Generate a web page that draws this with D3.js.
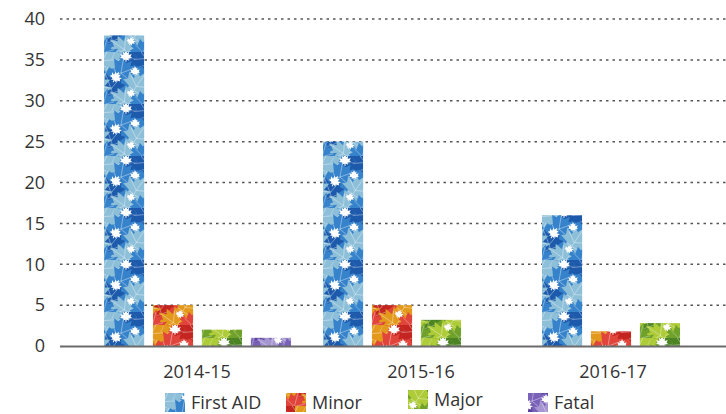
<!DOCTYPE html>
<html>
<head>
<meta charset="utf-8">
<script src="https://cdn.jsdelivr.net/npm/d3@7"></script>
<style>
  body { margin: 0; background: #fff; }
  svg { display: block; font-family: "Open Sans", "DejaVu Sans", sans-serif; }
</style>
</head>
<body>
<div id="chart"></div>
<script>
const years = ["2014-15", "2015-16", "2016-17"];
const series = ["First AID", "Minor", "Major", "Fatal"];
const firstAid = [38, 25, 16];
const minor = [5, 5, 1.8];
const major = [2, 3.2, 2.8];
const fatal = [1, 0, 0];
const yTicks = [0, 5, 10, 15, 20, 25, 30, 35, 40];

const values = [firstAid, minor, major, fatal];

// leaf colours per series: dark, mid, light
const palettes = [
  ["#1d5aab", "#3683cc", "#8dbfd9"],
  ["#c42520", "#e0443b", "#e39a1c"],
  ["#4c8423", "#6fa12b", "#aecb38"],
  ["#5a40a0", "#7a62b8", "#a596d2"]
];

const width = 726, height = 414;
const svg = d3.select("#chart").append("svg")
  .attr("width", width).attr("height", height);

const leafPath = "M0,-10 L2,-5 L5,-7 L4.5,-1.5 L9.5,-3.5 L7.5,1 L10,3 L4,4.5 L5,8 L1,6 L0.6,10 L-0.6,10 L-1,6 L-5,8 L-4,4.5 L-10,3 L-7.5,1 L-9.5,-3.5 L-4.5,-1.5 L-5,-7 L-2,-5 Z";

// fixed leaf layout inside one 40x52 tile: x, y, rotation, scale, shade (3 = gap)
const tileLeaves = [
  [8, 6, 25, 1.5, 2], [32, 4, -35, 1.5, 0], [40, 4, -35, 1.5, 0], [0, 6, 25, 1.5, 2],
  [20, 20, 70, 1.6, 1], [6, 34, -20, 1.5, 0], [34, 32, 35, 1.5, 2],
  [-6, 32, 35, 1.5, 2], [18, 48, -55, 1.5, 2], [40, 50, 15, 1.4, 1], [0, 50, 15, 1.4, 1],
  [22, 4, 0, 0.6, 3], [12, 25, 30, 0.6, 3], [31, 19, 0, 0.5, 3], [27, 41, 20, 0.45, 3]
];

const defs = svg.append("defs");
palettes.forEach((pal, i) => {
  const p = defs.append("pattern")
    .attr("id", "leaf" + i)
    .attr("patternUnits", "userSpaceOnUse")
    .attr("width", 40).attr("height", 52)
    .attr("x", i * 9).attr("y", i * 13);
  p.append("rect").attr("width", 40).attr("height", 52).attr("fill", pal[1]);
  tileLeaves.forEach(l => {
    const g = p.append("g")
      .attr("transform", `translate(${l[0]},${l[1]}) rotate(${l[2]}) scale(${l[3]})`);
    g.append("path").attr("d", leafPath)
      .attr("fill", l[4] === 3 ? "#fff" : pal[l[4]]);
    if (l[4] !== 3) {
      g.append("path")
        .attr("d", "M0,9 L0,-8 M0,2 L7,-2 M0,2 L-7,-2 M0,5 L4,5 M0,5 L-4,5")
        .attr("stroke", "#fff").attr("stroke-opacity", 0.55)
        .attr("stroke-width", 0.4).attr("fill", "none");
    }
  });
});

const y = d3.scaleLinear().domain([0, 40]).range([346, 19]);
const x0 = d3.scaleBand().domain(years).range([104, 761]);
const x1 = d3.scaleBand().domain(series).range([0, 187]).paddingInner(0.18);

// grid
svg.append("g")
  .selectAll("line")
  .data(yTicks.filter(d => d > 0))
  .join("line")
  .attr("x1", 60).attr("x2", width)
  .attr("y1", d => y(d)).attr("y2", d => y(d))
  .attr("stroke", "#555").attr("stroke-width", 1.5)
  .attr("stroke-dasharray", "2.5,4");

// y axis labels
const yAxis = svg.append("g")
  .attr("transform", "translate(45,0)")
  .call(d3.axisLeft(y).tickValues(yTicks).tickSize(0).tickPadding(0));
yAxis.select(".domain").remove();
yAxis.selectAll("text")
  .attr("font-size", 18).attr("fill", "#333")
  .attr("font-family", "'Open Sans', sans-serif");

// bars
const groups = svg.append("g")
  .selectAll("g")
  .data(years)
  .join("g")
  .attr("transform", d => `translate(${x0(d)},0)`);

groups.selectAll("rect")
  .data((yr, yi) => series.map((s, si) => ({ s, si, v: values[si][yi] })))
  .join("rect")
  .attr("x", d => x1(d.s))
  .attr("width", x1.bandwidth())
  .attr("y", d => y(d.v))
  .attr("height", d => y(0) - y(d.v))
  .attr("fill", d => `url(#leaf${d.si})`);

// baseline
svg.append("line")
  .attr("x1", 60).attr("x2", width)
  .attr("y1", 346.5).attr("y2", 346.5)
  .attr("stroke", "#6b6b6b").attr("stroke-width", 2);

// x labels
const labelX = [197, 421, 613];
svg.append("g")
  .selectAll("text")
  .data(years)
  .join("text")
  .attr("x", (d, i) => labelX[i])
  .attr("y", 378)
  .attr("text-anchor", "middle")
  .attr("font-size", 18).attr("fill", "#333")
  .text(d => d);

// legend
const legendX = [165, 286, 408, 528];
const legend = svg.append("g")
  .selectAll("g")
  .data(series)
  .join("g")
  .attr("transform", (d, i) => `translate(${legendX[i]},${i === 2 ? 390 : 393})`);
legend.append("rect")
  .attr("width", 20).attr("height", 19)
  .attr("fill", (d, i) => `url(#leaf${i})`);
legend.append("text")
  .attr("x", 26).attr("y", 16)
  .attr("font-size", 18).attr("fill", "#333")
  .text(d => d);
</script>
</body>
</html>
